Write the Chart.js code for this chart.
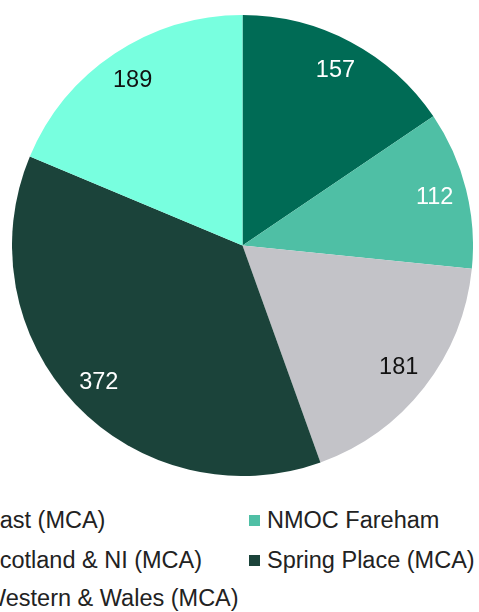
<!DOCTYPE html>
<html>
<head>
<meta charset="utf-8">
<script src="https://cdn.jsdelivr.net/npm/chart.js@4/dist/chart.umd.min.js"></script>
<style>
  html, body { margin: 0; padding: 0; background: #fff; overflow: hidden; }
  body { width: 479px; height: 612px; position: relative; font-family: "Liberation Sans", Arial, sans-serif; }
  #pieBox { position: absolute; left: 12px; top: 15px; width: 461px; height: 461px; }
  .legend-item { position: absolute; display: flex; align-items: center; height: 26px; line-height: 26px;
    font-size: 23.5px; color: #222; white-space: nowrap; }
  .legend-item span.box { width: 11px; height: 11px; margin-right: 7px; display: inline-block; }
</style>
</head>
<body>
<div id="pieBox"><canvas id="pieChart"></canvas></div>
<div id="legend"></div>
<script>
const labels = ['East (MCA)', 'NMOC Fareham', 'Scotland & NI (MCA)', 'Spring Place (MCA)', 'Western & Wales (MCA)'];
const values = [157, 112, 181, 372, 189];
const colors = ['#006b55', '#4fbfa5', '#c3c3c8', '#1b433a', '#78ffdf'];
const labelColors = ['#ffffff', '#ffffff', '#111111', '#ffffff', '#111111'];

// legend laid out like the original two-column grid (left column runs off the page)
const legendCols = [-34, 249];
const legendRows = [507, 547, 585];
const legend = document.getElementById('legend');
labels.forEach((name, i) => {
    const item = document.createElement('div');
    item.className = 'legend-item';
    item.style.left = legendCols[i % 2] + 'px';
    item.style.top = legendRows[Math.floor(i / 2)] + 'px';
    const box = document.createElement('span');
    box.className = 'box';
    box.style.background = colors[i];
    item.appendChild(box);
    item.appendChild(document.createTextNode(name));
    legend.appendChild(item);
});

// value labels inside the slices
const sliceLabels = {
    id: 'sliceLabels',
    afterDatasetsDraw(chart) {
        const ctx = chart.ctx;
        const meta = chart.getDatasetMeta(0);
        ctx.save();
        ctx.font = '23.5px "Liberation Sans", Arial, sans-serif';
        ctx.textAlign = 'center';
        ctx.textBaseline = 'middle';
        meta.data.forEach((arc, i) => {
            const mid = (arc.startAngle + arc.endAngle) / 2;
            const r = arc.outerRadius * 0.86;
            ctx.fillStyle = labelColors[i];
            ctx.fillText(String(values[i]), arc.x + Math.cos(mid) * r, arc.y + Math.sin(mid) * r);
        });
        ctx.restore();
    }
};

new Chart(document.getElementById('pieChart').getContext('2d'), {
    type: 'pie',
    data: {
        labels: labels,
        datasets: [{
            data: values,
            backgroundColor: colors,
            borderWidth: 0
        }]
    },
    options: {
        responsive: true,
        maintainAspectRatio: false,
        animation: false,
        events: [],
        layout: { padding: 0 },
        plugins: {
            legend: { display: false },
            tooltip: { enabled: false }
        }
    },
    plugins: [sliceLabels]
});
</script>
</body>
</html>
